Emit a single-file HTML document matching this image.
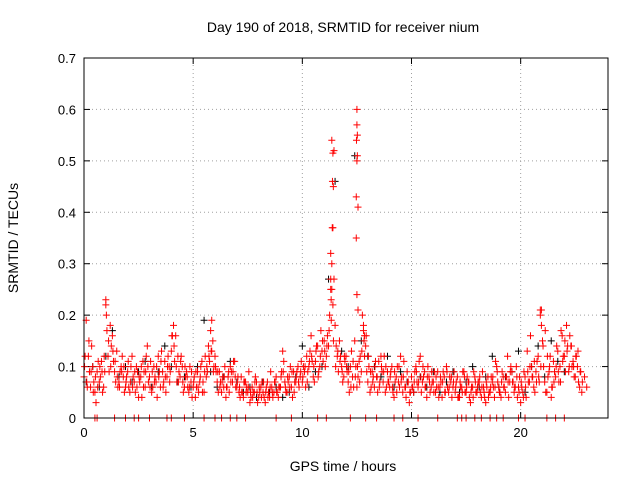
<!DOCTYPE html>
<html><head><meta charset="utf-8"><style>
body{margin:0;background:#fff;}
svg{display:block;font-family:"Liberation Sans",sans-serif;}
</style></head><body>
<svg id="chart" width="640" height="480" viewBox="0 0 640 480">
<rect width="640" height="480" fill="#fff"/>
<g id="grid"></g>
<g id="ticks"></g>
<g id="marks"></g>
<rect x="84" y="58" width="524" height="360" fill="none" stroke="#000" stroke-width="1"/>
<text x="343" y="32" text-anchor="middle" font-size="14">Day 190 of 2018, SRMTID for receiver nium</text>
<text x="343" y="471" text-anchor="middle" font-size="14">GPS time / hours</text>
<text x="18" y="238" text-anchor="middle" font-size="14" transform="rotate(-90 18 238)">SRMTID / TECUs</text>
</svg>
<script>
const xTicks=[0,5,10,15,20];
const yTicks=[0,0.1,0.2,0.3,0.4,0.5,0.6,0.7];
const redA=[.08,.19,.12,.06,.10,.05,.09,.07,.11,.06,.23,.12,.18,.16,.09,.13,.07,.10,.08,.06,.09,.05,.12,.07,.10,.04,.08,.11,.06,.14,.08,.05,.10,.07,.12,.06,.09,.11,.08,.10,.13,.18,.16,.12,.08,.10,.06,.09,.05,.07,.06,.04,.09,.07,.11,.05,.08,.14,.17,.15,.12,.07,.09,.05,.06,.04,.08,.10,.07,.11,.06,.05,.08,.04,.07,.05,.03,.06,.05,.07,.04,.06,.05,.03,.07,.04,.06,.05,.08,.04,.06,.13,.07,.05,.08,.06,.09,.07,.10,.08,.07,.09,.12,.10,.16,.08,.11,.14,.10,.13,.15,.12,.14,.25,.22,.18,.12,.15,.10,.08,.12,.07,.10,.08,.15,.06,.11,.09,.17,.14,.07,.05,.09,.06,.08,.11,.12,.07,.05,.09,.06,.10,.04,.08,.07,.12,.05,.06,.09,.03,.08,.05,.10,.06,.12,.07,.09,.04,.08,.06,.07,.05,.09,.06,.04,.08,.10,.05,.07,.06,.05,.08,.04,.06,.09,.05,.07,.03,.06,.08,.05,.07,.04,.06,.03,.08,.05,.07,.04,.10,.06,.04,.08,.05,.12,.07,.09,.05,.10,.06,.03,.05,.08,.13,.07,.10,.06,.09,.12,.21,.15,.07,.05,.09,.04,.11,.08,.13,.10,.16,.12,.18,.09,.14,.11,.08,.10,.06,.05];
const redB=[.12,.06,.09,.14,.07,.03,.11,.08,.05,.09,.17,.09,.14,.11,.07,.06,.09,.12,.05,.08,.06,.10,.08,.05,.09,.07,.04,.09,.12,.07,.11,.06,.08,.04,.09,.13,.07,.05,.12,.09,.16,.11,.07,.09,.12,.05,.08,.06,.10,.04,.08,.06,.05,.10,.07,.12,.09,.11,.13,.10,.09,.05,.07,.08,.10,.06,.05,.09,.11,.06,.08,.04,.05,.07,.06,.09,.04,.05,.08,.03,.05,.07,.04,.06,.05,.09,.04,.07,.05,.06,.09,.11,.05,.07,.10,.04,.07,.09,.06,.11,.10,.06,.09,.13,.11,.07,.14,.09,.17,.11,.10,.16,.20,.30,.27,.14,.09,.12,.07,.11,.09,.05,.13,.06,.10,.08,.12,.20,.12,.09,.10,.06,.08,.11,.05,.07,.09,.12,.06,.07,.09,.05,.07,.10,.06,.08,.11,.04,.07,.05,.06,.09,.07,.11,.05,.08,.06,.10,.05,.07,.09,.06,.04,.07,.09,.05,.06,.08,.04,.09,.07,.04,.06,.09,.05,.08,.04,.06,.09,.05,.07,.05,.09,.04,.06,.05,.08,.06,.11,.07,.05,.09,.06,.08,.04,.10,.07,.06,.04,.08,.06,.09,.04,.07,.16,.08,.05,.11,.07,.18,.10,.05,.08,.12,.06,.09,.14,.07,.17,.12,.09,.14,.16,.10,.08,.12,.07,.09];
const redC=[.10,.07,.15,.09,.05,.08,.06,.10,.09,.12,.20,.15,.10,.13,.11,.08,.06,.09,.10,.07,.11,.07,.06,.09,.06,.08,.10,.06,.09,.10,.06,.09,.07,.10,.08,.11,.06,.08,.10,.07,.16,.14,.10,.07,.11,.07,.10,.08,.06,.09,.07,.09,.06,.08,.05,.09,.10,.12,.13,.09,.10,.09,.06,.07,.08,.06,.09,.07,.09,.08,.07,.06,.05,.07,.05,.06,.05,.04,.07,.05,.06,.04,.07,.05,.04,.06,.05,.07,.05,.06,.08,.09,.06,.08,.06,.09,.05,.08,.07,.09,.08,.10,.07,.11,.12,.10,.13,.08,.12,.15,.13,.14,.17,.19,.15,.10,.13,.11,.09,.12,.10,.09,.06,.11,.08,.10,.07,.13,.15,.16,.12,.09,.07,.10,.08,.06,.10,.09,.10,.07,.08,.06,.09,.05,.10,.07,.08,.06,.07,.05,.06,.07,.09,.07,.08,.10,.06,.08,.07,.09,.05,.08,.06,.08,.07,.05,.09,.06,.08,.07,.06,.04,.07,.05,.08,.06,.07,.05,.04,.07,.06,.08,.06,.05,.07,.04,.06,.08,.06,.09,.05,.07,.06,.08,.07,.09,.07,.06,.08,.05,.07,.04,.06,.09,.10,.08,.11,.07,.08,.10,.14,.17,.12,.10,.06,.07,.10,.09,.07,.11,.15,.13,.10,.14,.10,.12,.13,.09,.07,.08,.06];
const peakTimes=[11.35,11.4,11.45,11.38,11.42,11.37,11.4,11.3,11.3,11.35,11.32,12.5,12.5,12.52,12.48,12.5,12.52,12.47,12.55,12.47,12.5,12.55,12.8,12.85,1.0,20.95,20.9,5.85];
const peakValues=[.54,.515,.52,.46,.45,.37,.37,.32,.27,.25,.23,.60,.57,.55,.54,.50,.51,.43,.41,.35,.24,.21,.18,.16,.22,.21,.20,.19];
const blackVals=[.07,.10,.06,.12,.17,.08,.10,.07,.09,.11,.06,.09,.14,.10,.07,.08,.06,.10,.19,.09,.06,.08,.11,.07,.05,.06,.04,.07,.05,.06,.04,.05,.08,.14,.06,.09,.10,.27,.46,.13,.10,.51,.15,.12,.10,.08,.12,.06,.09,.07,.05,.08,.06,.09,.05,.07,.09,.05,.07,.10,.06,.08,.12,.06,.08,.09,.13,.05,.10,.14,.08,.15,.11,.09];
const zeroTimes=[0.5,0.6,1.4,1.9,2.3,2.5,3.0,3.8,4.0,4.6,5.5,6.0,6.3,6.7,7.0,7.4,8.8,9.5,10.7,11.1,12.2,12.9,13.4,14.2,14.6,15.3,16.2,17.1,17.3,17.5,17.9,18.2,18.6,18.9,19.2,19.9,20.2,21.2,21.6,22.0];

const NS="http://www.w3.org/2000/svg";
const X0=84,X1=608,Y0=418,Y1=58;
const xs=t=>X0+t/24*(X1-X0);
const ys=v=>Y0-v/0.7*(Y0-Y1);
function mk(tag,attrs,parent){const e=document.createElementNS(NS,tag);for(const k in attrs)e.setAttribute(k,attrs[k]);parent.appendChild(e);return e;}
const grid=document.getElementById('grid'),ticks=document.getElementById('ticks'),marks=document.getElementById('marks');
xTicks.forEach(t=>{const x=xs(t);
 if(t>0){const g=mk('line',{x1:x,x2:x,y1:Y0,y2:Y1,stroke:'#a0a0a0','stroke-dasharray':'1,3'},grid);
 
 }
 mk('line',{x1:x,x2:x,y1:Y0,y2:Y0-6,stroke:'#000'},ticks);
 mk('line',{x1:x,x2:x,y1:Y1,y2:Y1+6,stroke:'#000'},ticks);
 const l=mk('text',{x:x,y:Y0+19,'text-anchor':'middle','font-size':13},ticks);l.textContent=t;
 
 });
yTicks.forEach(v=>{const y=ys(v);
 if(v>0&&v<0.7){const g=mk('line',{x1:X0,x2:X1,y1:y,y2:y,stroke:'#a0a0a0','stroke-dasharray':'1,3'},grid);
 
 }
 mk('line',{x1:X0,x2:X0+6,y1:y,y2:y,stroke:'#000'},ticks);
 mk('line',{x1:X1,x2:X1-6,y1:y,y2:y,stroke:'#000'},ticks);
 const l=mk('text',{x:X0-8,y:y+5,'text-anchor':'end','font-size':13},ticks);l.textContent=(v===0?'0':v.toFixed(1));
 
 });
function plus(t,v,color,name){const x=xs(t),y=ys(v);
 const p=mk('path',{d:`M${x-3.5},${y}h7M${x},${y-3.5}v7`,stroke:color,'stroke-width':1,fill:'none'},marks);
 
 }
blackVals.forEach((v,i)=>plus(i*0.3+0.1,v,'#000','black-point'));
redA.forEach((v,i)=>plus(i*0.1,v,'#f00','red-point'));
redB.forEach((v,i)=>plus(i*0.1+0.05,v,'#f00','red-point'));
redC.forEach((v,i)=>plus(i*0.1+0.025,v,'#f00','red-point'));
peakValues.forEach((v,i)=>plus(peakTimes[i],v,'#f00','red-peak-point'));
zeroTimes.forEach(t=>plus(t,0,'#f00','zero-point'));
</script>
</body></html>
